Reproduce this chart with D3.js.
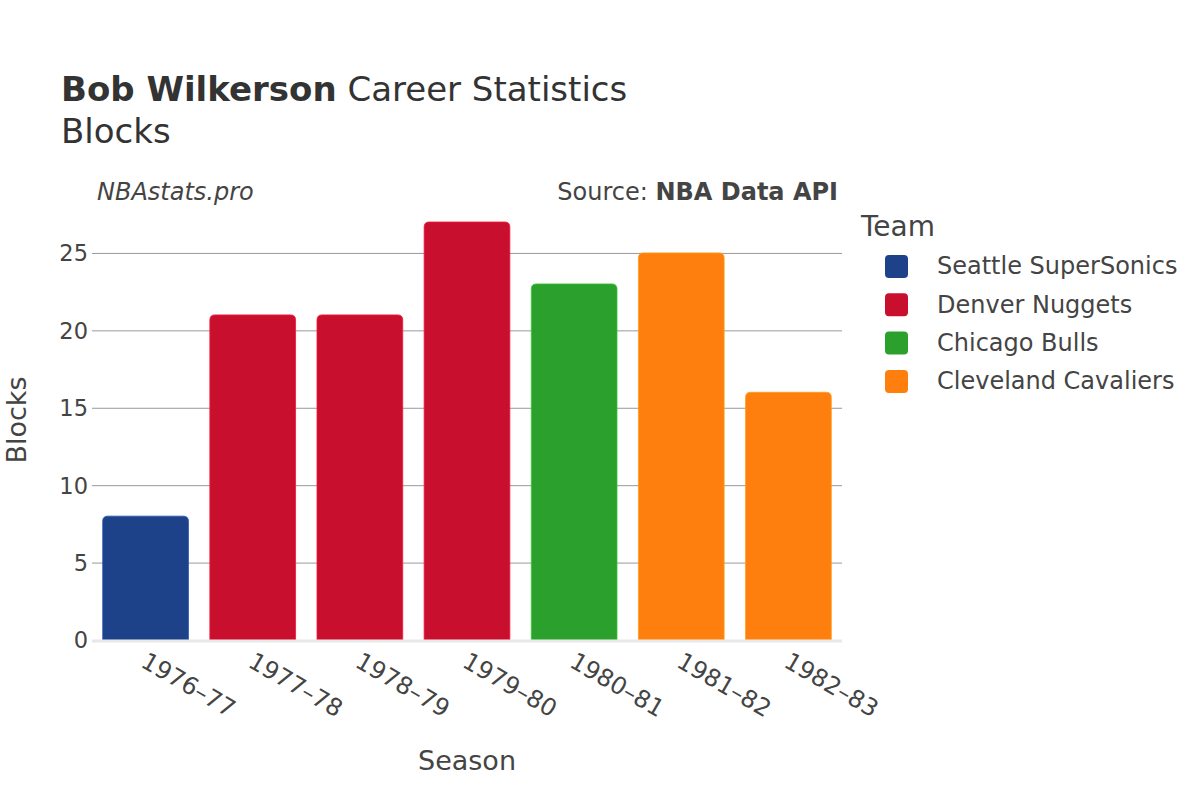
<!DOCTYPE html>
<html><head><meta charset="utf-8">
<script src="https://cdn.jsdelivr.net/npm/d3@7"></script>
<style>body{margin:0;background:#fff}svg{display:block;font-family:"DejaVu Sans",sans-serif}</style>
</head><body><svg id="c" width="1200" height="800"></svg>
<script>
const seasons = ["1976–77","1977–78","1978–79","1979–80","1980–81","1981–82","1982–83"];
const blocks = [8,21,21,27,23,25,16];
const teamOf = ["Seattle SuperSonics","Denver Nuggets","Denver Nuggets","Denver Nuggets","Chicago Bulls","Cleveland Cavaliers","Cleveland Cavaliers"];
const teams = ["Seattle SuperSonics","Denver Nuggets","Chicago Bulls","Cleveland Cavaliers"];
const teamColors = ["#1d428a","#c8102e","#2ca02c","#ff7f0e"];
const yTicks = [0,5,10,15,20,25];

const FONT = '"DejaVu Sans", sans-serif';
const svg = d3.select("#c");
const m = {l:92, r:842, t:200, b:640};
const x = d3.scaleBand().domain(seasons).range([m.l, m.r]).paddingInner(0.2).paddingOuter(0.1);
const y = d3.scaleLinear().domain([0, 28.42]).range([m.b, m.t]);
const color = d3.scaleOrdinal().domain(teams).range(teamColors);
const txt = "#444";

// grid
const yAxis = d3.axisLeft(y).tickValues(yTicks).tickSize(-(m.r-m.l)).tickPadding(5);
const gy = svg.append("g").attr("transform",`translate(${m.l},0)`).call(yAxis)
  .attr("font-family",FONT).attr("font-size",22.5);
gy.select(".domain").remove();
gy.selectAll(".tick line").attr("stroke","#999").attr("stroke-width",1);
gy.selectAll(".tick").filter(d=>d===0).select("line").remove();
gy.selectAll(".tick text").attr("fill",txt).attr("x",-4).attr("dy","0.35em");

// bars with rounded top
const r = 5;
svg.append("g").selectAll("path").data(seasons).join("path")
  .attr("d",(s,i)=>{
    const x0 = x(s), w = x.bandwidth(), y0 = y(0), y1 = y(blocks[i]);
    return `M${x0},${y0}V${y1+r}Q${x0},${y1} ${x0+r},${y1}H${x0+w-r}Q${x0+w},${y1} ${x0+w},${y1+r}V${y0}Z`;
  })
  .attr("fill",(s,i)=>color(teamOf[i]))
  .attr("stroke",(s,i)=>d3.color(color(teamOf[i])).brighter(0.6))
  .attr("stroke-width",0.8);

// zero line
svg.append("line").attr("x1",m.l).attr("x2",m.r).attr("y1",y(0)+1).attr("y2",y(0)+1)
  .attr("stroke","#e8e8e8").attr("stroke-width",3);

// x axis labels
const gx = svg.append("g").attr("transform",`translate(0,${m.b})`).call(d3.axisBottom(x).tickSize(0))
  .attr("font-family",FONT).attr("font-size",24);
gx.select(".domain").remove();
gx.selectAll(".tick text").attr("fill",txt)
  .attr("text-anchor","start").attr("dy",0).attr("y",0)
  .attr("transform","translate(-6,26) rotate(30)");

// axis titles
svg.append("text").attr("x",467).attr("y",770).attr("text-anchor","middle").attr("fill",txt).style("font-size","27px").text("Season");
svg.append("text").attr("transform","translate(26,420) rotate(-90)").attr("text-anchor","middle").attr("fill",txt).style("font-size","27px").text("Blocks");

// title
const t = svg.append("text").attr("x",61).attr("y",101).attr("fill","#333").style("font-size","34px");
t.append("tspan").attr("font-weight","bold").text("Bob Wilkerson");
t.append("tspan").text(" Career Statistics");
svg.append("text").attr("x",61).attr("y",143).attr("fill","#333").style("font-size","34px").text("Blocks");

svg.append("text").attr("x",97).attr("y",200).attr("fill",txt).style("font-size","24px").style("font-style","italic").text("NBAstats.pro");
const s = svg.append("text").attr("x",838).attr("y",200).attr("text-anchor","end").attr("fill",txt).style("font-size","24px");
s.append("tspan").text("Source: ");
s.append("tspan").attr("font-weight","bold").text("NBA Data API");

// legend
svg.append("text").attr("x",861).attr("y",236).attr("fill",txt).style("font-size","28px").text("Team");
const lg = svg.append("g").selectAll("g").data(teams).join("g")
  .attr("transform",(d,i)=>`translate(0,${266 + i*38.3})`);
lg.append("rect").attr("x",885).attr("y",-11).attr("width",23).attr("height",23).attr("rx",4).attr("fill",d=>color(d));
lg.append("text").attr("x",937).attr("y",0).attr("dy","0.35em").attr("fill",txt).style("font-size","24px").text(d=>d);
</script></body></html>
